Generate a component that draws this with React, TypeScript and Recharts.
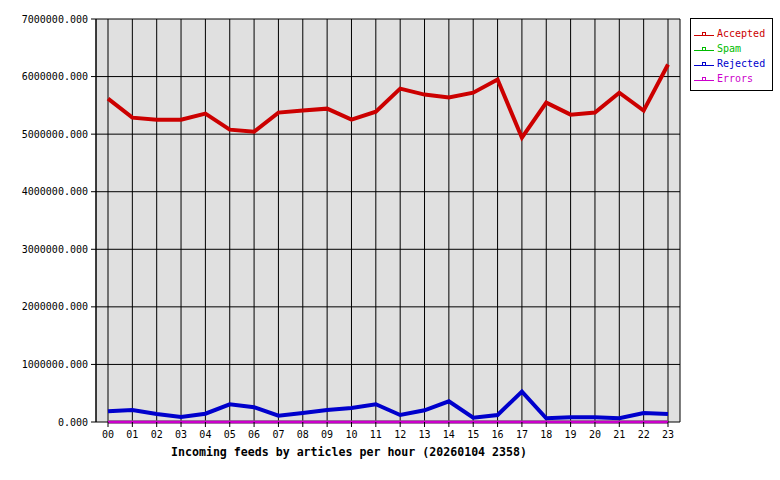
import { CartesianGrid, Line, LineChart, XAxis, YAxis } from 'recharts'

const hours = ['00', '01', '02', '03', '04', '05', '06', '07', '08', '09', '10', '11', '12', '13', '14', '15', '16', '17', '18', '19', '20', '21', '22', '23']

const accepted = [
  5617000, 5287000, 5252000, 5252000, 5357000, 5078000, 5043000, 5374000, 5409000, 5443000, 5252000, 5390000,
  5790000, 5687000, 5635000, 5720000, 5948000, 4939000, 5548000, 5339000, 5374000, 5720000, 5409000, 6209000,
]
const spam = [0, 0, 0, 0, 0, 0, 0, 0, 0, 0, 0, 0, 0, 0, 0, 0, 0, 0, 0, 0, 0, 0, 0, 0]
const rejected = [
  186000, 209000, 139000, 87000, 144000, 308000, 256000, 110000, 157000, 209000, 243000, 308000,
  122000, 203000, 360000, 75000, 122000, 527000, 64000, 82000, 82000, 64000, 157000, 139000,
]
const errors = [0, 0, 0, 0, 0, 0, 0, 0, 0, 0, 0, 0, 0, 0, 0, 0, 0, 0, 0, 0, 0, 0, 0, 0]

const yTicks = [0, 1000000, 2000000, 3000000, 4000000, 5000000, 6000000, 7000000]
const title = 'Incoming feeds by articles per hour (20260104 2358)'

const series = [
  { key: 'accepted', name: 'Accepted', color: '#cc0000', width: 4 },
  { key: 'spam', name: 'Spam', color: '#00bb00', width: 3 },
  { key: 'rejected', name: 'Rejected', color: '#0000cc', width: 4 },
  { key: 'errors', name: 'Errors', color: '#cc00cc', width: 3 },
]

const data = hours.map((h, i) => ({
  hour: h,
  accepted: accepted[i],
  spam: spam[i],
  rejected: rejected[i],
  errors: errors[i],
}))

const font = '"DejaVu Sans Mono", monospace'

function LegendBox() {
  return (
    <div
      style={{
        position: 'absolute',
        left: 690,
        top: 18,
        width: 83,
        height: 73,
        border: '1px solid #000',
        background: '#fff',
        fontFamily: font,
        fontSize: 10,
        paddingTop: 7,
        boxSizing: 'border-box',
      }}
    >
      {series.map((s) => (
        <div key={s.key} style={{ display: 'flex', alignItems: 'center', height: 15, color: s.color }}>
          <svg width={26} height={10} style={{ flexShrink: 0 }}>
            <line x1={3} y1={6.5} x2={23} y2={6.5} stroke={s.color} strokeWidth={1} />
            <rect x={11.5} y={3.5} width={3} height={3} fill="none" stroke={s.color} strokeWidth={1} />
          </svg>
          <span style={{ lineHeight: '10px' }}>{s.name}</span>
        </div>
      ))}
    </div>
  )
}

export default function App() {
  return (
    <div style={{ position: 'absolute', left: 0, top: 0, width: 780, height: 480, background: '#fff' }}>
      <LineChart
        width={780}
        height={480}
        data={data}
        margin={{ top: 19, right: 100, left: 0, bottom: 38 }}
      >
        <CartesianGrid stroke="#000" fill="#e0e0e0" fillOpacity={1} />
        <XAxis
          dataKey="hour"
          interval={0}
          padding={{ left: 12, right: 12 }}
          height={20}
          tickSize={5}
          tickMargin={4}
          axisLine={false}
          tickLine={{ stroke: '#000' }}
          tick={{ fill: '#000', fontFamily: font, fontSize: 10 }}
        />
        <YAxis
          width={96}
          domain={[0, 7000000]}
          ticks={yTicks}
          interval={0}
          tickSize={5}
          tickMargin={3}
          tickFormatter={(v: number) => v.toFixed(3)}
          axisLine={{ stroke: '#000' }}
          tickLine={{ stroke: '#000' }}
          tick={{ fill: '#000', fontFamily: font, fontSize: 10 }}
        />
        <YAxis
          yAxisId="right"
          orientation="right"
          width={0}
          domain={[0, 7000000]}
          tick={false}
          tickLine={false}
          axisLine={{ stroke: '#000' }}
        />
        {series.map((s) => (
          <Line
            key={s.key}
            dataKey={s.key}
            name={s.name}
            stroke={s.color}
            strokeWidth={s.width}
            dot={false}
            activeDot={false}
            isAnimationActive={false}
          />
        ))}
      </LineChart>
      <LegendBox />
      <div
        style={{
          position: 'absolute',
          left: 171,
          top: 445,
          fontFamily: font,
          fontSize: 11.6,
          fontWeight: 'bold',
          whiteSpace: 'nowrap',
          color: '#000',
        }}
      >
        {title}
      </div>
    </div>
  )
}
